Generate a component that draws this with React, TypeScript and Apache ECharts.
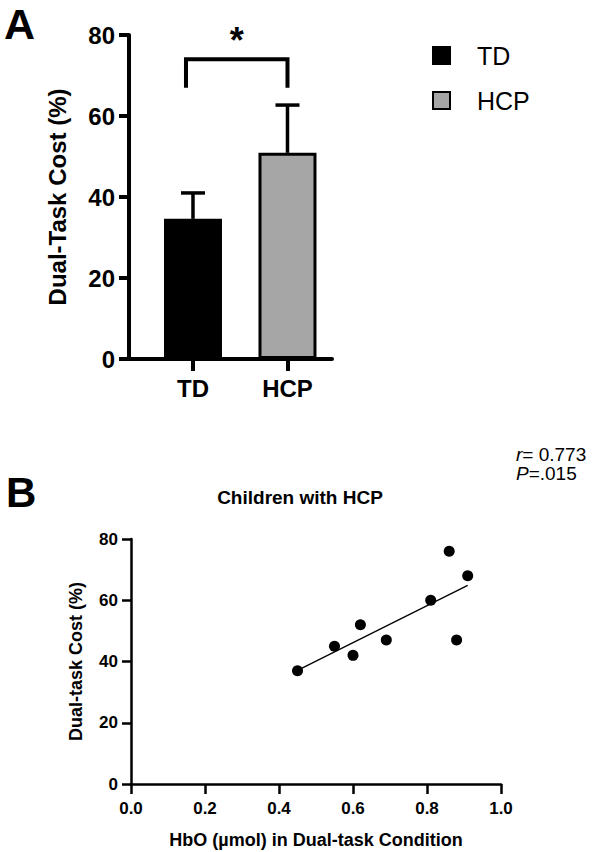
import React, { useEffect, useRef } from 'react';
import * as echarts from 'echarts';

// Panel A data
const categories = ['TD', 'HCP'];
const meanCost = [34.6, 50.9];
const sdUpper = [41.0, 62.7];
const sigBracket = [67, 74];
const sigLabel = '*';

// Panel B data
const hboX = [0.45, 0.55, 0.6, 0.62, 0.69, 0.81, 0.86, 0.91, 0.88];
const costY = [37, 45, 42, 52, 47, 60, 76, 68, 47];
const rValue = '0.773';
const pValue = '.015';

const FONT = '"Liberation Sans", Arial, Helvetica, sans-serif';

export default function App() {
  const ref = useRef<HTMLDivElement>(null);
  useEffect(() => {
    const chart = echarts.init(ref.current!, null, { renderer: 'svg' });
    const n = hboX.length;
    const mx = hboX.reduce((a, b) => a + b, 0) / n;
    const my = costY.reduce((a, b) => a + b, 0) / n;
    let sxy = 0;
    let sxx = 0;
    for (let i = 0; i < n; i++) {
      sxy += (hboX[i] - mx) * (costY[i] - my);
      sxx += (hboX[i] - mx) * (hboX[i] - mx);
    }
    const slope = sxy / sxx;
    const icpt = my - slope * mx;
    const x0 = Math.min(...hboX);
    const x1 = Math.max(...hboX);
    const fit = [
      [x0, icpt + slope * x0],
      [x1, icpt + slope * x1],
    ];

    const boldLabel = (size: number) => ({
      color: '#000',
      fontWeight: 'bold' as const,
      fontSize: size,
      fontFamily: FONT,
    });

    chart.setOption({
      animation: false,
      backgroundColor: '#fff',
      grid: [
        { left: 129, top: 35, width: 203, height: 324 },
        { left: 131, top: 539, width: 370, height: 245 },
      ],
      legend: {
        data: ['TD', 'HCP'],
        orient: 'vertical',
        left: 432,
        top: 43,
        padding: 0,
        itemWidth: 17,
        itemHeight: 17,
        itemGap: 20,
        icon: 'rect',
        selectedMode: false,
        textStyle: {
          fontSize: 25,
          color: '#000',
          fontFamily: FONT,
          padding: [0, 0, 0, 22],
        },
      },
      xAxis: [
        {
          gridIndex: 0,
          type: 'value',
          min: 0.323,
          max: 2.471,
          splitLine: { show: false },
          axisLine: { show: true, lineStyle: { color: '#000', width: 4 } },
          axisTick: {
            show: true,
            length: 12,
            lineStyle: { color: '#000', width: 4 },
            customValues: [1, 2],
          },
          axisLabel: {
            ...boldLabel(24),
            margin: 17,
            customValues: [1, 2],
            formatter: (v: number) => categories[Math.round(v) - 1] ?? '',
          },
        },
        {
          gridIndex: 1,
          type: 'value',
          min: 0,
          max: 1,
          interval: 0.2,
          splitLine: { show: false },
          axisLine: { show: true, lineStyle: { color: '#000', width: 2.5 } },
          axisTick: { show: true, length: 10, lineStyle: { color: '#000', width: 2.5 } },
          axisLabel: {
            ...boldLabel(17),
            margin: 16,
            formatter: (v: number) => v.toFixed(1),
          },
          name: 'HbO (µmol) in Dual-task Condition',
          nameLocation: 'middle',
          nameGap: 47,
          nameTextStyle: boldLabel(18),
        },
      ],
      yAxis: [
        {
          gridIndex: 0,
          type: 'value',
          min: 0,
          max: 80,
          interval: 20,
          splitLine: { show: false },
          axisLine: { show: true, lineStyle: { color: '#000', width: 4 } },
          axisTick: { show: true, length: 10, lineStyle: { color: '#000', width: 4 } },
          axisLabel: { ...boldLabel(24), margin: 14 },
          name: 'Dual-Task Cost (%)',
          nameLocation: 'middle',
          nameGap: 60,
          nameTextStyle: boldLabel(24),
        },
        {
          gridIndex: 1,
          type: 'value',
          min: 0,
          max: 80,
          interval: 20,
          splitLine: { show: false },
          axisLine: { show: true, lineStyle: { color: '#000', width: 2.5 } },
          axisTick: { show: true, length: 9, lineStyle: { color: '#000', width: 2.5 } },
          axisLabel: { ...boldLabel(17), margin: 13 },
          name: 'Dual-task Cost (%)',
          nameLocation: 'middle',
          nameGap: 46,
          nameTextStyle: boldLabel(18),
        },
      ],
      graphic: [
        {
          type: 'text',
          left: 4,
          top: 2,
          style: { text: 'A', font: `bold 43px ${FONT}`, fill: '#000' },
        },
        {
          type: 'text',
          left: 6,
          top: 471,
          style: { text: 'B', font: `bold 42px ${FONT}`, fill: '#000' },
        },
        {
          type: 'text',
          x: 300,
          y: 497,
          style: {
            text: 'Children with HCP',
            font: `bold 19px ${FONT}`,
            fill: '#000',
            align: 'center',
            verticalAlign: 'middle',
          },
        },
        {
          type: 'text',
          x: 516,
          y: 445,
          style: {
            text: `{i|r}{n|= ${rValue}}\n{i|P}{n|=${pValue}}`,
            fill: '#000',
            rich: {
              i: { fontStyle: 'italic', fontSize: 19, fontFamily: FONT, fill: '#000', lineHeight: 19 },
              n: { fontSize: 19, fontFamily: FONT, fill: '#000', lineHeight: 19 },
            },
          },
        },
      ],
      series: [
        {
          name: 'TD',
          type: 'bar',
          xAxisIndex: 0,
          yAxisIndex: 0,
          barWidth: 58,
          data: [[1, meanCost[0]]],
          itemStyle: { color: '#000', borderColor: '#000', borderWidth: 3 },
        },
        {
          name: 'HCP',
          type: 'bar',
          xAxisIndex: 0,
          yAxisIndex: 0,
          barWidth: 58,
          barGap: '-100%',
          data: [[2, meanCost[1]]],
          itemStyle: { color: '#a6a6a6', borderColor: '#000', borderWidth: 3 },
        },
        {
          type: 'custom',
          xAxisIndex: 0,
          yAxisIndex: 0,
          z: 5,
          data: categories.map((c, i) => [i + 1, meanCost[i], sdUpper[i]]),
          renderItem: (params: any, api: any) => {
            const p0 = api.coord([api.value(0), api.value(1)]);
            const p1 = api.coord([api.value(0), api.value(2)]);
            const st = { stroke: '#000', lineWidth: 3.5 };
            return {
              type: 'group',
              children: [
                { type: 'line', shape: { x1: p0[0], y1: p0[1], x2: p1[0], y2: p1[1] }, style: st },
                { type: 'line', shape: { x1: p1[0] - 12, y1: p1[1], x2: p1[0] + 12, y2: p1[1] }, style: st },
              ],
            };
          },
        },
        {
          type: 'custom',
          xAxisIndex: 0,
          yAxisIndex: 0,
          z: 5,
          data: [[1, 2, sigBracket[0], sigBracket[1]]],
          renderItem: (params: any, api: any) => {
            const a = api.coord([api.value(0), api.value(2)]);
            const b = api.coord([api.value(0), api.value(3)]);
            const c = api.coord([api.value(1), api.value(3)]);
            const d = api.coord([api.value(1), api.value(2)]);
            const lx = a[0] - 7;
            return {
              type: 'group',
              children: [
                {
                  type: 'polyline',
                  shape: { points: [[lx, a[1]], [lx, b[1]], [c[0], c[1]], [d[0], d[1]]] },
                  style: { stroke: '#000', lineWidth: 4, fill: 'none' },
                },
                {
                  type: 'text',
                  x: (lx + c[0]) / 2,
                  y: b[1] - 1,
                  style: {
                    text: sigLabel,
                    font: `bold 36px ${FONT}`,
                    fill: '#000',
                    align: 'center',
                    verticalAlign: 'bottom',
                  },
                },
              ],
            };
          },
        },
        {
          type: 'scatter',
          xAxisIndex: 1,
          yAxisIndex: 1,
          symbolSize: 11,
          itemStyle: { color: '#000', opacity: 1 },
          data: hboX.map((x, i) => [x, costY[i]]),
        },
        {
          type: 'line',
          xAxisIndex: 1,
          yAxisIndex: 1,
          showSymbol: false,
          symbol: 'none',
          lineStyle: { color: '#000', width: 1.3 },
          data: fit,
        },
      ],
    });
    return () => chart.dispose();
  }, []);
  return (
    <div
      ref={ref}
      style={{ position: 'fixed', left: 0, top: 0, width: 600, height: 852 }}
    />
  );
}
